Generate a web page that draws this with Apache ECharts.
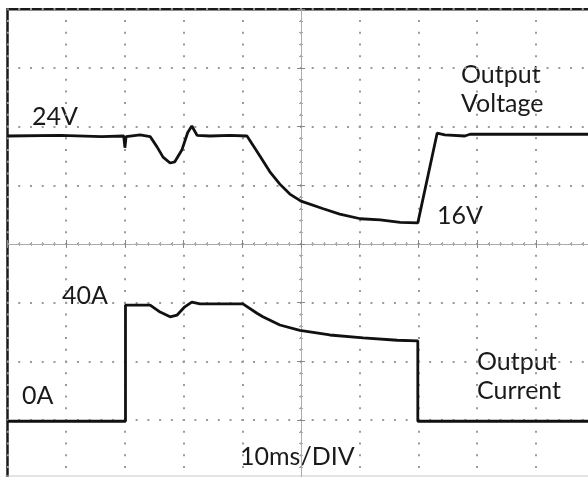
<!DOCTYPE html>
<html>
<head>
<meta charset="utf-8">
<script src="https://cdn.jsdelivr.net/npm/echarts@6/dist/echarts.min.js"></script>
<style>
  html, body { margin: 0; padding: 0; background: #fff; }
  #scope { width: 588px; height: 477px; }
</style>
</head>
<body>
<div id="scope"></div>
<script>
// time in ms relative to screen centre (10 ms/div), amplitude in divisions
const voltTime = [-50, -41, -34, -30.2, -30.0, -29.8, -27.4, -25.7, -24.5, -23.5, -22.3, -21.5, -20.3, -19.3, -18.6, -17.7, -15.5, -12.1, -9.2, -7.0, -5.3, -3.6, -1.9, 0, 3.8, 6.6, 10.1, 13.5, 16.9, 19.9, 23.2, 24.5, 27.9, 28.8, 32.2, 50];
const voltDiv = [1.84, 1.85, 1.83, 1.84, 1.64, 1.83, 1.86, 1.83, 1.65, 1.48, 1.38, 1.40, 1.60, 1.90, 2.01, 1.85, 1.84, 1.85, 1.84, 1.50, 1.23, 1.02, 0.85, 0.73, 0.60, 0.51, 0.43, 0.41, 0.37, 0.36, 1.89, 1.86, 1.84, 1.87, 1.87, 1.87];

const currTime = [-50, -29.9, -29.9, -25.7, -24.0, -22.3, -21.1, -19.8, -18.6, -17.2, -9.9, -7.5, -6.5, -3.6, -0.2, 4.9, 10.6, 16.4, 19.9, 19.9, 50];
const currDiv = [-3.02, -3.02, -1.04, -1.04, -1.16, -1.24, -1.21, -1.07, -0.99, -1.02, -1.02, -1.18, -1.24, -1.38, -1.47, -1.55, -1.60, -1.64, -1.65, -3.02, -3.02];

// annotation texts
const labels = [
  { text: "24V", x: 32, y: 117 },
  { text: "Output", x: 461, y: 75 },
  { text: "Voltage", x: 461, y: 104 },
  { text: "16V", x: 437, y: 216 },
  { text: "40A", x: 62, y: 296 },
  { text: "0A", x: 22, y: 396 },
  { text: "Output", x: 477, y: 362 },
  { text: "Current", x: 477, y: 391 },
  { text: "10ms/DIV", x: 240, y: 457 },
];

const chart = echarts.init(document.getElementById("scope"));

const dotGrid = {
  show: true,
  lineStyle: { color: "#9a9a9a", width: 2, type: [2, 9.74], dashOffset: 1 },
};
// centre graticule line with tick marks
const centreLine = {
  onZero: true,
  lineStyle: { color: "#aaa", width: 1, type: [1, 1] },
};

function xAx(pos, first) {
  return {
    type: "value",
    position: pos,
    min: -50,
    max: 50,
    interval: 10,
    axisLabel: { show: false },
    axisLine: centreLine,
    axisTick: { show: true, length: 4, lineStyle: { color: "#888", width: 1 } },
    minorTick: { show: true, splitNumber: 5, length: 2, lineStyle: { color: "#aaa" } },
    splitLine: first ? dotGrid : { show: false },
  };
}
function yAx(pos, first) {
  return {
    type: "value",
    position: pos,
    min: -4,
    max: 4,
    interval: 1,
    axisLabel: { show: false },
    axisLine: centreLine,
    axisTick: { show: true, length: 4, lineStyle: { color: "#888", width: 1 } },
    minorTick: { show: true, splitNumber: 5, length: 2, lineStyle: { color: "#aaa" } },
    splitLine: first ? dotGrid : { show: false },
  };
}

const option = {
  animation: false,
  backgroundColor: "#fff",
  grid: {
    left: 7.5,
    top: 9.2,
    width: 587,
    height: 469.6,
    outerBoundsMode: "none",
    show: true,
    borderColor: "#1a1a1a",
    borderWidth: 2.5,
  },
  xAxis: [xAx("bottom", true), xAx("top", false)],
  yAxis: [yAx("left", true), yAx("right", false)],
  graphic: labels.map((l) => ({
    type: "text",
    x: l.x,
    y: l.y,
    style: {
      text: l.text,
      font: "25px Lato",
      fill: "#1a1a1a",
      verticalAlign: "middle",
    },
  })).concat([
    {
      // faint lower edge of the screen
      type: "line",
      shape: { x1: 5, y1: 476, x2: 588, y2: 476 },
      style: { stroke: "#c8c8c8", lineWidth: 1 },
    },
  ]),
  series: [
    {
      name: "Output Voltage",
      type: "line",
      data: voltTime.map((t, i) => [t, voltDiv[i]]),
      showSymbol: false,
      lineStyle: { color: "#111", width: 2.8 },
    },
    {
      name: "Output Current",
      type: "line",
      data: currTime.map((t, i) => [t, currDiv[i]]),
      showSymbol: false,
      lineStyle: { color: "#111", width: 2.8 },
    },
  ],
};
chart.setOption(option);
</script>
</body>
</html>
